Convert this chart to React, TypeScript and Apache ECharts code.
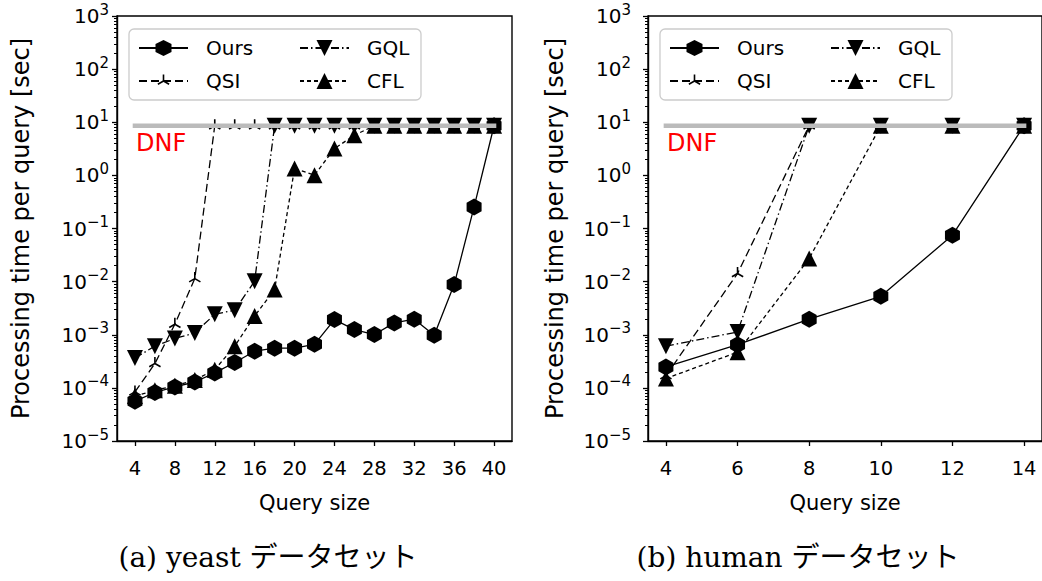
import React, { useEffect, useRef } from 'react';
import * as echarts from 'echarts';

// ---------------- data ----------------
const DNF = 8.6; // "did not finish" level (seconds)

const yeastSizes = [4, 6, 8, 10, 12, 14, 16, 18, 20, 22, 24, 26, 28, 30, 32, 34, 36, 38, 40];
const yeastOurs = [5.6e-5, 8.2e-5, 1.04e-4, 1.29e-4, 1.91e-4, 3.0e-4, 4.9e-4, 5.6e-4, 5.6e-4, 6.6e-4, 1.93e-3, 1.25e-3, 1.01e-3, 1.67e-3, 1.96e-3, 9.8e-4, 8.8e-3, 0.255, DNF];
const yeastQSI = [8.4e-5, 2.87e-4, 1.58e-3, 1.14e-2, DNF, DNF, DNF, DNF, DNF, DNF, DNF, DNF, DNF, DNF, DNF, DNF, DNF, DNF, DNF];
const yeastGQL = [3.66e-4, 6.1e-4, 8.5e-4, 1.08e-3, 2.43e-3, 2.9e-3, 1.02e-2, DNF, DNF, DNF, DNF, DNF, DNF, DNF, DNF, DNF, DNF, DNF, DNF];
const yeastCFL = [7.0e-5, 9.0e-5, 1.1e-4, 1.4e-4, 2.2e-4, 6.1e-4, 2.26e-3, 7.1e-3, 1.35, 1.01, 3.2, 5.7, DNF, DNF, DNF, DNF, DNF, DNF, DNF];

const humanSizes = [4, 6, 8, 10, 12, 14];
const humanOurs = [2.48e-4, 6.5e-4, 1.96e-3, 5.3e-3, 0.0748, DNF];
const humanQSI = [1.7e-4, 1.42e-2, DNF, DNF, DNF, DNF];
const humanGQL = [6.1e-4, 1.13e-3, DNF, DNF, DNF, DNF];
const humanCFL = [1.5e-4, 4.7e-4, 0.0272, DNF, DNF, DNF];

const yeastTicks = [4, 8, 12, 16, 20, 24, 28, 32, 36, 40];
const humanTicks = [4, 6, 8, 10, 12, 14];

const captions = ['(a) yeast データセット', '(b) human データセット'];
const yTitle = 'Processing time per query [sec]';
const xTitle = 'Query size';

// ---------------- styling ----------------
const FONT = "'DejaVu Sans', sans-serif";
const SERIF = "'DejaVu Serif', 'Noto Sans CJK JP', serif";

const HEX = 'path://M0 -1 L0.866 -0.5 L0.866 0.5 L0 1 L-0.866 0.5 L-0.866 -0.5 Z';
const TRI_DOWN = 'path://M-1 -1 L1 -1 L0 1 Z';
const TRI_UP = 'triangle';
const TRI_MARK =
  'path://M-8 -8 M8 8 ' +
  'M-0.8 -6.5 L0.8 -6.5 L0.8 0 L-0.8 0 Z ' +
  'M0.4 0.693 L-5.23 3.943 L-6.03 2.557 L-0.4 -0.693 Z ' +
  'M0.4 -0.693 L6.03 2.557 L5.23 3.943 L-0.4 0.693 Z';

const styleMap: Record<string, { symbol: string; size: any; dash: any; z: number }> = {
  Ours: { symbol: HEX, size: [15, 17], dash: 'solid', z: 6 },
  QSI: { symbol: TRI_MARK, size: 16, dash: [8, 4], z: 3 },
  GQL: { symbol: TRI_DOWN, size: 16, dash: [8, 3, 1.5, 3], z: 4 },
  CFL: { symbol: TRI_UP, size: 16, dash: [4, 3], z: 5 },
};

const grids = [
  { left: 117, width: 395, xmin: 2.2, xmax: 41.8, ticks: yeastTicks, labelMargin: 8, nameGap: 84, legendX: 138, boxX: 129, dnfX: 136, capX: 268 },
  { left: 648, width: 395, xmin: 3.5, xmax: 14.5, ticks: humanTicks, labelMargin: 17, nameGap: 81, legendX: 669, boxX: 660, dnfX: 667, capX: 798 },
];

const sets = [
  { sizes: yeastSizes, data: { Ours: yeastOurs, QSI: yeastQSI, GQL: yeastGQL, CFL: yeastCFL } as Record<string, number[]> },
  { sizes: humanSizes, data: { Ours: humanOurs, QSI: humanQSI, GQL: humanGQL, CFL: humanCFL } as Record<string, number[]> },
];

function supLabel(v: number) {
  const e = Math.round(Math.log10(v));
  const s = e < 0 ? '\u2212' + String(-e) : String(e);
  return `{b|10}{s|${s}}`;
}

function buildOption() {
  const gridOpt = grids.map((g) => ({
    left: g.left,
    top: 16,
    width: g.width,
    height: 425,
    show: true,
    borderColor: '#000',
    borderWidth: 1.4,
    backgroundColor: 'transparent',
  }));

  const xAxis = grids.map((g, i) => ({
    type: 'value',
    gridIndex: i,
    min: g.xmin,
    max: g.xmax,
    name: xTitle,
    nameLocation: 'middle',
    nameGap: 51,
    nameTextStyle: { fontFamily: FONT, fontSize: 21, color: '#000' },
    axisLine: { show: true, onZero: false, lineStyle: { color: '#000', width: 1.4 } },
    axisTick: { show: true, length: 5, customValues: g.ticks, lineStyle: { color: '#000', width: 1.3 } },
    axisLabel: { customValues: g.ticks, fontFamily: FONT, fontSize: 19.5, color: '#000', margin: 17 },
    splitLine: { show: false },
  }));

  const yAxis: any[] = grids.map((g, i) => ({
    type: 'log',
    logBase: 10,
    gridIndex: i,
    min: 1e-5,
    max: 1e3,
    splitNumber: 8,
    name: yTitle,
    nameLocation: 'middle',
    nameGap: g.nameGap,
    nameTextStyle: { fontFamily: FONT, fontSize: 24, color: '#000' },
    axisLine: { show: true, onZero: false, lineStyle: { color: '#000', width: 1.4 } },
    axisTick: { show: true, length: 5, lineStyle: { color: '#000', width: 1.3 } },
    minorTick: { show: true, splitNumber: 9, length: 3, lineStyle: { color: '#000', width: 1 } },
    axisLabel: {
      formatter: supLabel,
      margin: g.labelMargin,
      color: '#000',
      rich: {
        b: { fontFamily: FONT, fontSize: 20, lineHeight: 28, color: '#000' },
        s: { fontFamily: FONT, fontSize: 15, verticalAlign: 'top', color: '#000' },
      },
    },
    splitLine: { show: false },
    minorSplitLine: { show: false },
  }));

  const series: any[] = [];
  sets.forEach((set, gi) => {
    ['QSI', 'GQL', 'CFL', 'Ours'].forEach((name) => {
      const st = styleMap[name];
      series.push({
        type: 'line',
        name,
        xAxisIndex: gi,
        yAxisIndex: gi,
        data: set.sizes.map((s, k) => [s, set.data[name][k]]),
        symbol: st.symbol,
        symbolSize: st.size,
        showSymbol: true,
        lineStyle: { color: '#000', width: 1.3, type: st.dash },
        itemStyle: { color: '#000' },
        z: st.z,
        silent: true,
        clip: false,
        emphasis: { disabled: true },
      });
    });
    series.push({
      type: 'line',
      name: 'DNF',
      xAxisIndex: gi,
      yAxisIndex: gi,
      data: [
        [set.sizes[0], DNF],
        [set.sizes[set.sizes.length - 1], DNF],
      ],
      symbol: 'none',
      lineStyle: { color: '#bbbbbb', width: 4.5, cap: 'square' },
      z: 10,
      silent: true,
      emphasis: { disabled: true },
    });
  });

  const legend: any[] = [];
  grids.forEach((g) => {
    [
      { left: g.legendX, names: ['Ours', 'QSI'] },
      { left: g.legendX + 161, names: ['GQL', 'CFL'] },
    ].forEach((col) => {
      legend.push({
        left: col.left,
        top: 38,
        orient: 'vertical',
        padding: 0,
        itemWidth: 49,
        itemHeight: 20,
        itemGap: 13,
        selectedMode: false,
        data: col.names,
        textStyle: { fontFamily: FONT, fontSize: 20, color: '#000', padding: [0, 0, 0, 13] },
      });
    });
  });

  const graphic: any[] = [];
  grids.forEach((g, i) => {
    graphic.push({
      type: 'rect',
      z: 3,
      shape: { x: g.boxX, y: 29, width: 292, height: 71, r: 5 },
      style: { fill: 'rgba(255,255,255,0.8)', stroke: '#cccccc', lineWidth: 1.3 },
    });
    graphic.push({
      type: 'text',
      z: 11,
      x: g.dnfX,
      y: 143,
      style: { text: 'DNF', fill: '#ff0000', fontFamily: FONT, fontSize: 24, verticalAlign: 'middle', align: 'left' },
    });
    graphic.push({
      type: 'text',
      z: 11,
      x: g.capX,
      y: 557,
      style: { text: captions[i], fill: '#000', fontFamily: SERIF, fontSize: 28, verticalAlign: 'middle', align: 'center' },
    });
  });

  return {
    animation: false,
    backgroundColor: '#ffffff',
    grid: gridOpt,
    xAxis,
    yAxis,
    series,
    legend,
    graphic,
  };
}

export default function App() {
  const ref = useRef<HTMLDivElement>(null);
  useEffect(() => {
    if (!ref.current) return;
    const chart = echarts.init(ref.current, undefined, { renderer: 'svg' });
    chart.setOption(buildOption() as any);
    return () => chart.dispose();
  }, []);
  return <div ref={ref} style={{ position: 'absolute', left: 0, top: 0, width: 1042, height: 581 }} />;
}
